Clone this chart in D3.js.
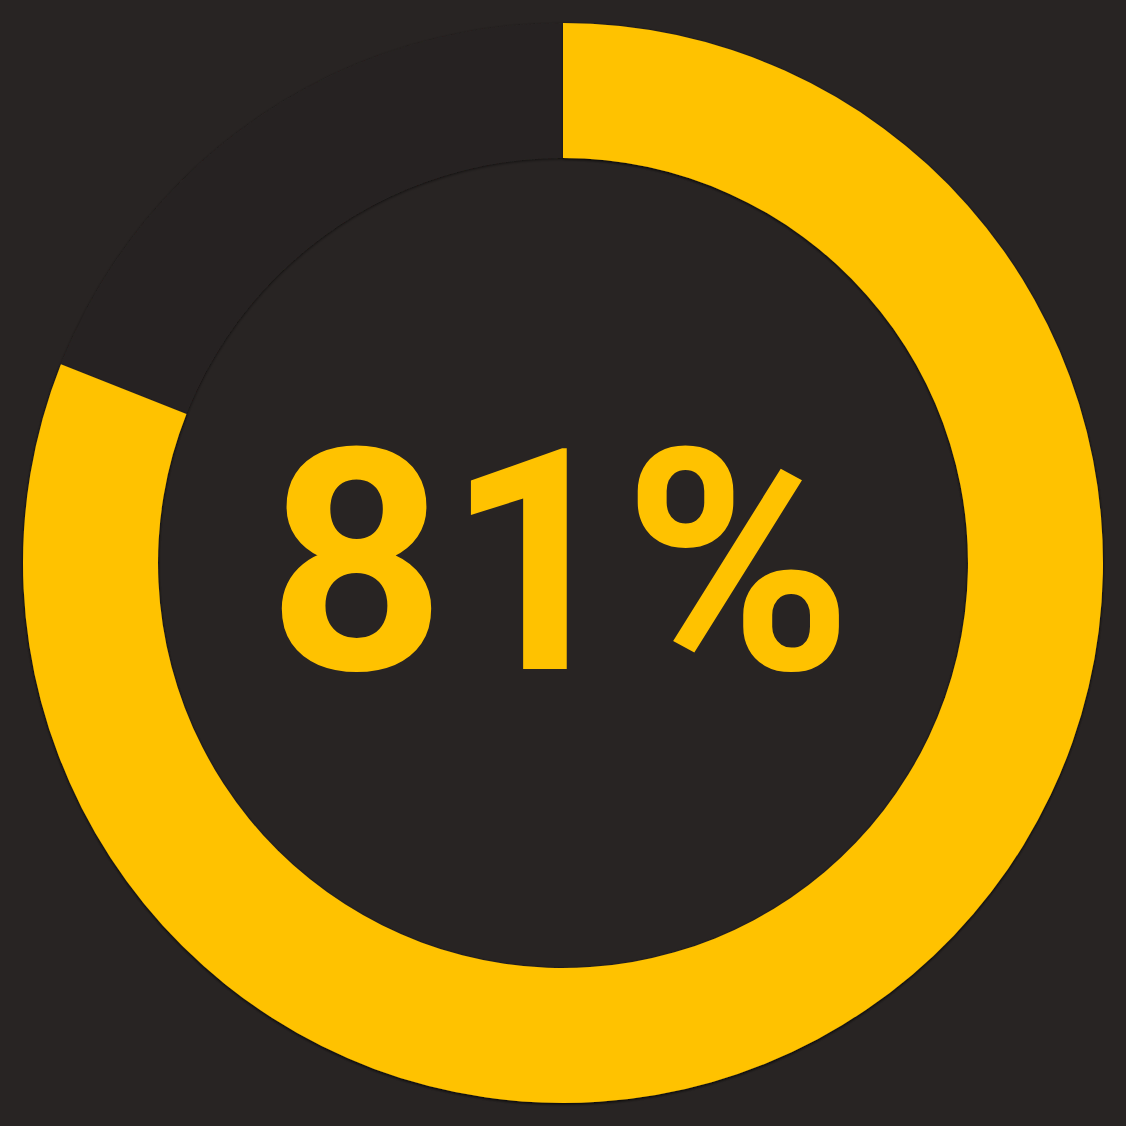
<!DOCTYPE html>
<html>
<head>
<meta charset="utf-8">
<script src="https://cdn.jsdelivr.net/npm/d3@7"></script>
<style>
  html, body { margin: 0; padding: 0; background: #282423; }
  svg { display: block; }
</style>
</head>
<body>
<script>
// gauge value (percent)
const values = [81];
const maxValue = [100];
const labels = ['81%'];

const width = 1126, height = 1126;
const cx = 563, cy = 563;
const outerR = 540, innerR = 405;

const svg = d3.select('body').append('svg')
  .attr('width', width)
  .attr('height', height);

svg.append('rect').attr('width', width).attr('height', height).attr('fill', '#282423');

const defs = svg.append('defs');
const shadow = defs.append('filter').attr('id', 'shadow')
  .attr('x', '-10%').attr('y', '-10%').attr('width', '120%').attr('height', '120%');
shadow.append('feDropShadow')
  .attr('dx', 0).attr('dy', 1).attr('stdDeviation', 1.5)
  .attr('flood-color', '#000').attr('flood-opacity', 0.55);

const angle = d3.scaleLinear().domain([0, maxValue[0]]).range([0, 2 * Math.PI]);

const arc = d3.arc().innerRadius(innerR).outerRadius(outerR);

const g = svg.append('g').attr('transform', `translate(${cx},${cy})`);

// track
g.append('path')
  .attr('d', arc({ startAngle: 0, endAngle: 2 * Math.PI }))
  .attr('fill', '#272322')
  .attr('filter', 'url(#shadow)');

// value arc
g.selectAll('path.value')
  .data(values)
  .enter()
  .append('path')
  .attr('class', 'value')
  .attr('d', d => arc({ startAngle: 0, endAngle: angle(d) }))
  .attr('fill', '#FFC200')
  .attr('filter', 'url(#shadow)');

// centre label
g.append('text')
  .attr('x', -3)
  .attr('y', 106)
  .attr('text-anchor', 'middle')
  .attr('fill', '#FFC200')
  .style('font-family', 'Roboto, sans-serif')
  .style('font-weight', 700)
  .style('font-size', '310px')
  .text(labels[0]);
</script>
</body>
</html>
